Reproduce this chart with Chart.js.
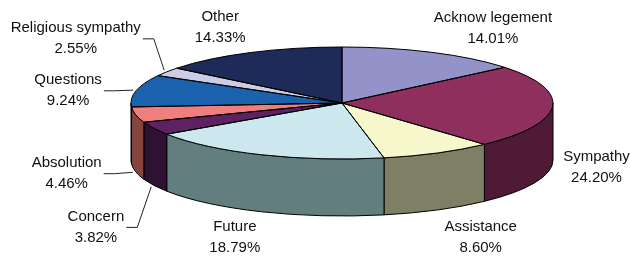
<!DOCTYPE html>
<html><head><meta charset="utf-8">
<script src="https://cdn.jsdelivr.net/npm/chart.js@4.4.0/dist/chart.umd.min.js"></script>
<style>html,body{margin:0;padding:0;background:#fff}canvas{display:block}</style>
</head><body>
<canvas id="c" width="630" height="257"></canvas>
<script>
// ---- data ----
const categories = ['Acknow legement','Sympathy','Assistance','Future','Concern','Absolution','Questions','Religious sympathy','Other'];
const percentages = [14.01, 24.20, 8.60, 18.79, 3.82, 4.46, 9.24, 2.55, 14.33];

// ---- style ----
const topColors  = ['#9393C9','#8E2F5E','#F7F7CC','#CCE8EE','#5E2162','#EF7F7F','#1A62AE','#CCCCE6','#1E2B58'];
const sideColors = ['#4A4A66','#4F1A36','#7F7F66','#627E7E','#2F1231','#86443F','#0D3157','#666673','#0F162C'];
const RY = 56, TILT = 211 / 56, DEPTH = 57;
const labelNudge = [[61,-24],[44,3],[43,27],[-27,26],[-58,42],[-69,2],[-68,0],[-91,-33],[-30,-25]];
const hasLeader  = [false,false,false,false,true,true,true,true,false];
const FONT = '15px "Liberation Sans", Arial, sans-serif';

const pie3d = {
  id: 'pie3d',
  beforeDatasetsDraw(chart) {
    const ctx = chart.ctx;
    const arcs = chart.getDatasetMeta(0).data;
    const cx = arcs[0].x, cy = arcs[0].y, ry = arcs[0].outerRadius, rx = ry * TILT;
    ctx.save();
    ctx.lineWidth = 1; ctx.strokeStyle = '#000'; ctx.lineJoin = 'round';
    arcs.forEach((a, i) => {
      const s = Math.max(a.startAngle, 0), e = Math.min(a.endAngle, Math.PI);
      if (e <= s) return;
      ctx.beginPath();
      ctx.ellipse(cx, cy, rx, ry, 0, s, e, false);
      ctx.lineTo(cx + rx * Math.cos(e), cy + ry * Math.sin(e) + DEPTH);
      ctx.ellipse(cx, cy + DEPTH, rx, ry, 0, e, s, true);
      ctx.closePath();
      ctx.fillStyle = sideColors[i];
      ctx.fill(); ctx.stroke();
    });
    ctx.restore();
    ctx.save();
    ctx.translate(cx, cy); ctx.scale(TILT, 1); ctx.translate(-cx, -cy);
  },
  afterDatasetsDraw(chart) {
    const ctx = chart.ctx;
    ctx.restore();
    const arcs = chart.getDatasetMeta(0).data;
    const cx = arcs[0].x, cy = arcs[0].y, ry = arcs[0].outerRadius, rx = ry * TILT;
    ctx.save();
    ctx.lineWidth = 1; ctx.strokeStyle = '#000'; ctx.lineJoin = 'round';
    arcs.forEach(a => {
      ctx.beginPath();
      ctx.moveTo(cx, cy);
      ctx.ellipse(cx, cy, rx, ry, 0, a.startAngle, a.endAngle, false);
      ctx.closePath();
      ctx.stroke();
    });
    // labels
    ctx.font = FONT; ctx.fillStyle = '#111'; ctx.textAlign = 'center'; ctx.textBaseline = 'middle';
    arcs.forEach((a, i) => {
      const mid = (a.startAngle + a.endAngle) / 2;
      const front = Math.sin(mid) > 0;
      const ax = cx + rx * Math.cos(mid), ay = cy + ry * Math.sin(mid) + (front ? DEPTH : 0);
      const lx = ax + labelNudge[i][0], ly = ay + labelNudge[i][1];
      const l1 = categories[i], l2 = percentages[i].toFixed(2) + '%';
      ctx.fillText(l1, lx, ly - 10.5);
      ctx.fillText(l2, lx, ly + 10.5);
      if (hasLeader[i]) {
        const w = Math.max(ctx.measureText(l1).width, ctx.measureText(l2).width);
        const sx = lx + w / 2 + 2, sy = ly;
        ctx.beginPath();
        ctx.strokeStyle = '#222';
        ctx.moveTo(sx, sy);
        ctx.lineTo(sx + 11, sy);
        ctx.lineTo(ax + 3 * Math.cos(mid), ay + 3 * Math.sin(mid));
        ctx.stroke();
      }
    });
    ctx.restore();
  }
};

new Chart(document.getElementById('c'), {
  type: 'pie',
  data: {
    labels: categories,
    datasets: [{
      data: percentages,
      backgroundColor: topColors,
      borderWidth: 0,
      radius: RY
    }]
  },
  options: {
    responsive: false,
    animation: false,
    events: [],
    layout: { padding: { left: 54, right: 0, top: 0, bottom: 51 } },
    plugins: { legend: { display: false }, tooltip: { enabled: false } }
  },
  plugins: [pie3d]
});
</script>
</body></html>
